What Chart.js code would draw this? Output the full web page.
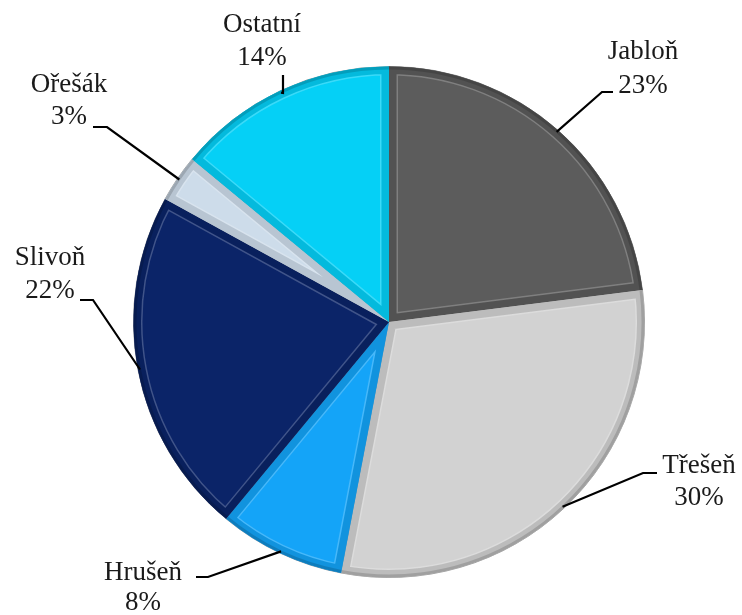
<!DOCTYPE html>
<html>
<head>
<meta charset="utf-8">
<script src="https://cdn.jsdelivr.net/npm/chart.js@4/dist/chart.umd.min.js"></script>
<style>
  html, body { margin: 0; padding: 0; background: #ffffff; }
  #wrap { width: 742px; height: 615px; position: relative; }
</style>
</head>
<body>
<div id="wrap"><canvas id="c" width="742" height="615"></canvas></div>
<script>
// ---- data ----
const categories = ["Jabloň", "Třešeň", "Hrušeň", "Slivoň", "Ořešák", "Ostatní"];
const shares = [23, 30, 8, 22, 3, 14];
const percentLabels = ["23%", "30%", "8%", "22%", "3%", "14%"];

// ---- style ----
const sliceColors = ["#5c5c5c", "#d2d2d2", "#14a4f8", "#0b2468", "#cddcea", "#05d0f6"];
// label layout: [textCenterX, baseline1, baseline2, elbowX, elbowY, endX, endY]
const labelLayout = [
  [643, 59, 93, 602, 92, 613, 92],
  [699, 473, 505, 643, 473, 657, 473],
  [143, 580, 610, 208, 577, 196, 577],
  [50, 265, 298, 93, 300, 80, 300],
  [69, 92, 124, 107, 127, 93, 127],
  [262, 32, 65, 283, 93, 283, 75]
];

const bevelPlugin = {
  id: 'bevel',
  afterDatasetsDraw(chart) {
    const ctx = chart.ctx;
    const meta = chart.getDatasetMeta(0);
    meta.data.forEach((arc, i) => {
      const p = arc.getProps(['x', 'y', 'startAngle', 'endAngle', 'outerRadius']);
      const path = () => {
        ctx.beginPath();
        ctx.moveTo(p.x, p.y);
        ctx.arc(p.x, p.y, p.outerRadius, p.startAngle, p.endAngle);
        ctx.closePath();
      };
      ctx.save();
      path();
      ctx.clip();
      ctx.lineJoin = 'miter';
      path();
      ctx.lineWidth = 18;
      ctx.strokeStyle = 'rgba(255,255,255,0.22)';
      ctx.stroke();
      path();
      ctx.lineWidth = 15;
      ctx.strokeStyle = sliceColors[i];
      ctx.stroke();
      path();
      ctx.lineWidth = 15;
      ctx.strokeStyle = 'rgba(0,0,0,0.10)';
      ctx.stroke();
      // darker outer rim
      ctx.beginPath();
      ctx.arc(p.x, p.y, p.outerRadius - 1.5, p.startAngle, p.endAngle);
      ctx.lineWidth = 3;
      ctx.strokeStyle = 'rgba(0,0,0,0.15)';
      ctx.stroke();
      ctx.restore();
    });
  }
};

const labelPlugin = {
  id: 'pieLabels',
  afterDraw(chart) {
    const ctx = chart.ctx;
    const meta = chart.getDatasetMeta(0);
    ctx.save();
    meta.data.forEach((arc, i) => {
      const p = arc.getProps(['x', 'y', 'startAngle', 'endAngle', 'outerRadius']);
      const mid = (p.startAngle + p.endAngle) / 2;
      const sx = p.x + Math.cos(mid) * (p.outerRadius - 2);
      const sy = p.y + Math.sin(mid) * (p.outerRadius - 2);
      const L = labelLayout[i];
      ctx.beginPath();
      ctx.moveTo(sx, sy);
      ctx.lineTo(L[3], L[4]);
      ctx.lineTo(L[5], L[6]);
      ctx.lineWidth = 2.2;
      ctx.strokeStyle = '#000000';
      ctx.stroke();
      ctx.fillStyle = '#1a1a1a';
      ctx.font = '27px "Liberation Serif", "Times New Roman", serif';
      ctx.textAlign = 'center';
      ctx.textBaseline = 'alphabetic';
      ctx.fillText(categories[i], L[0], L[1]);
      ctx.fillText(percentLabels[i], L[0], L[2]);
    });
    ctx.restore();
  }
};

new Chart(document.getElementById('c'), {
  type: 'pie',
  data: {
    labels: categories,
    datasets: [{
      data: shares,
      backgroundColor: sliceColors,
      borderColor: 'rgba(40,40,40,0.45)',
      borderWidth: 1
    }]
  },
  options: {
    responsive: false,
    animation: false,
    layout: { padding: { left: 133, right: 97, top: 66, bottom: 37 } },
    plugins: {
      legend: { display: false },
      tooltip: { enabled: false }
    }
  },
  plugins: [bevelPlugin, labelPlugin]
});
</script>
</body>
</html>
